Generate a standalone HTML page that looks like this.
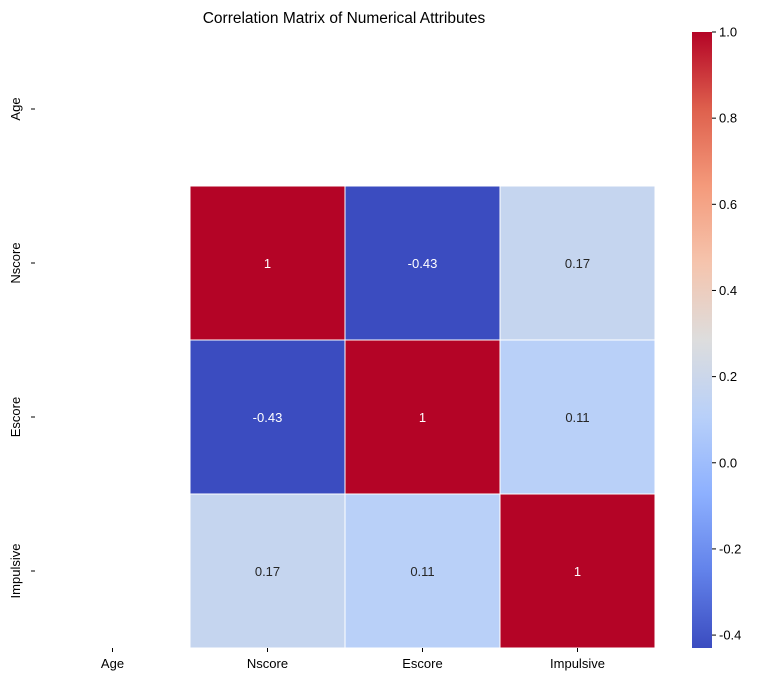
<!DOCTYPE html>
<html><head><meta charset="utf-8"><style>
body{margin:0;background:#fff;}
svg text{font-family:"Liberation Sans",sans-serif;}
</style></head><body>
<svg id="chart" width="776" height="682" xmlns="http://www.w3.org/2000/svg">
<defs>
<linearGradient id="cw" x1="0" y1="1" x2="0" y2="0">
<stop offset="0" stop-color="rgb(59,76,192)"/>
<stop offset="0.125" stop-color="rgb(98,130,234)"/>
<stop offset="0.25" stop-color="rgb(141,176,254)"/>
<stop offset="0.375" stop-color="rgb(184,208,249)"/>
<stop offset="0.5" stop-color="rgb(221,221,221)"/>
<stop offset="0.625" stop-color="rgb(245,196,173)"/>
<stop offset="0.75" stop-color="rgb(244,154,123)"/>
<stop offset="0.875" stop-color="rgb(222,96,77)"/>
<stop offset="1" stop-color="rgb(180,4,38)"/>
</linearGradient>
</defs>
<text x="344" y="23" text-anchor="middle" font-size="15.5" fill="#000">Correlation Matrix of Numerical Attributes</text>
<g id="cells"></g>
<g id="axes"></g>
<rect x="692" y="32" width="20" height="616" fill="url(#cw)"/>
<g id="cbticks"></g>
</svg>
<script>
const labels = ["Age","Nscore","Escore","Impulsive"];
const rowAge = [null,null,null,null];
const rowNscore = [null,1,-0.43,0.17];
const rowEscore = [null,-0.43,1,0.11];
const rowImpulsive = [null,0.17,0.11,1];
const matrix = [rowAge,rowNscore,rowEscore,rowImpulsive];
const cbTicks = [-0.4,-0.2,0.0,0.2,0.4,0.6,0.8,1.0];
const vmin = -0.43, vmax = 1.0;

const X0=35, Y0=32, CW=155, CH=154, CB_TOP=32, CB_H=616;
const NS="http://www.w3.org/2000/svg";
const stops=[[59,76,192],[98,130,234],[141,176,254],[184,208,249],[221,221,221],[245,196,173],[244,154,123],[222,96,77],[180,4,38]];
function color(v){let t=(v-vmin)/(vmax-vmin);t=Math.max(0,Math.min(1,t));const p=t*8,i=Math.min(7,Math.floor(p)),f=p-i;const a=stops[i],b=stops[i+1];return `rgb(${a.map((c,k)=>Math.round(c+(b[k]-c)*f)).join(',')})`;}
function xPos(i){return X0+i*CW;}
function yPos(i){return Y0+i*CH;}
function cbY(v){return CB_TOP+(vmax-v)/(vmax-vmin)*CB_H;}
function mk(tag,attrs,parent){const e=document.createElementNS(NS,tag);for(const k in attrs)e.setAttribute(k,attrs[k]);parent.appendChild(e);return e;}
const cells=document.getElementById('cells'),axes=document.getElementById('axes'),cbt=document.getElementById('cbticks');
matrix.forEach((row,r)=>row.forEach((v,c)=>{
  if(v===null)return;
  const rect=mk('rect',{x:xPos(c),y:yPos(r),width:CW,height:CH,fill:color(v),stroke:'#fff','stroke-width':1},cells);
  
  
  const t=mk('text',{x:xPos(c)+CW/2,y:yPos(r)+CH/2+5,'text-anchor':'middle','font-size':13,fill:(Math.abs((v-vmin)/(vmax-vmin)-0.5)>0.3)?'#fff':'#262626'},cells);
  t.textContent=String(v);
  
  
}));
labels.forEach((l,i)=>{
  const cx=xPos(i)+CW/2, cy=yPos(i)+CH/2;
  mk('line',{x1:cx,y1:648,x2:cx,y2:652,stroke:'#000'},axes);
  const tx=mk('text',{x:cx,y:668,'text-anchor':'middle','font-size':13,fill:'#000'},axes);
  tx.textContent=l;
  
  
  mk('line',{x1:31,y1:cy,x2:35,y2:cy,stroke:'#000'},axes);
  const ty=mk('text',{x:0,y:0,'text-anchor':'middle','font-size':13,fill:'#000',transform:`translate(20,${cy}) rotate(-90)`},axes);
  ty.textContent=l;
  
  
});
cbTicks.forEach(v=>{
  const y=cbY(v);
  mk('line',{x1:712,y1:y,x2:716,y2:y,stroke:'#000'},cbt);
  const t=mk('text',{x:719,y:y+4.5,'font-size':13,fill:'#000'},cbt);
  t.textContent=v.toFixed(1);
  
  
});
</script>
</body></html>
